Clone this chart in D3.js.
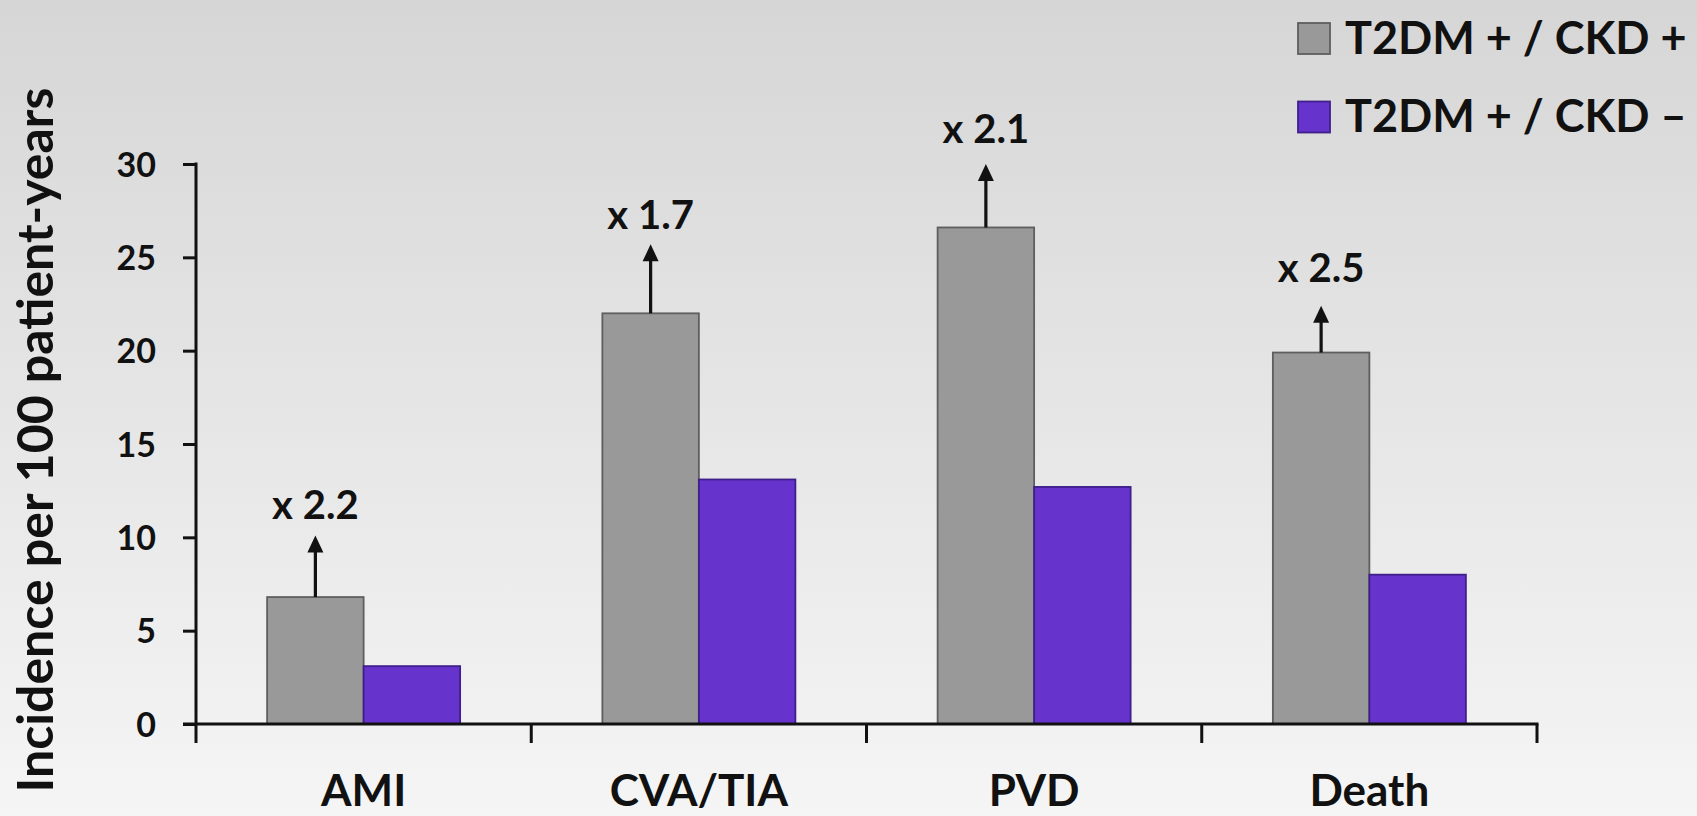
<!DOCTYPE html>
<html>
<head>
<meta charset="utf-8">
<script src="https://cdn.jsdelivr.net/npm/d3@7"></script>
<style>
  html, body { margin: 0; padding: 0; background: #ffffff; }
  svg { display: block; font-family: Lato, "Open Sans", sans-serif; }
</style>
</head>
<body>
<svg id="chart" width="1697" height="816"></svg>
<script>
// Incidence per 100 patient-years by outcome
const categories = ["AMI", "CVA/TIA", "PVD", "Death"];
const series = ["T2DM + / CKD +", "T2DM + / CKD \u2013"];
const ckdPositive = [6.8, 22.0, 26.6, 19.9];
const ckdNegative = [3.1, 13.1, 12.7, 8.0];
// Arrow tips and ratio annotations above the CKD+ bars
const arrowTop = [10.1, 25.7, 30.0, 22.4];
const ratioLabels = ["x 2.2", "x 1.7", "x 2.1", "x 2.5"];
const ratioLabelAt = [11.0, 26.5, 31.1, 23.7];
const yTicks = [0, 5, 10, 15, 20, 25, 30];
const seriesColors = ["#999999", "#6633cc"];
const seriesStrokes = ["#5e5e5e", "#3f1f8a"];

const W = 1697, H = 816;
const svg = d3.select("#chart");

// soft vertical background shading
const defs = svg.append("defs");
const grad = defs.append("linearGradient").attr("id", "bg")
  .attr("x1", 0).attr("y1", 0).attr("x2", 0).attr("y2", 1);
grad.append("stop").attr("offset", "0%").attr("stop-color", "#d6d6d6");
grad.append("stop").attr("offset", "100%").attr("stop-color", "#f5f5f5");
svg.append("rect").attr("width", W).attr("height", H).attr("fill", "url(#bg)");

const plotLeft = 196, plotRight = 1537, plotTop = 164, plotBottom = 724;

const x = d3.scaleBand().domain(categories).range([plotLeft, plotRight]).padding(0);
const xs = d3.scaleBand().domain(series).range([0, x.bandwidth()])
  .paddingInner(0).paddingOuter(0.737);
const y = d3.scaleLinear().domain([0, 30]).range([plotBottom, plotTop]);

const rows = categories.map((c, i) => ({
  cat: c,
  vals: [ckdPositive[i], ckdNegative[i]],
  tip: arrowTop[i],
  label: ratioLabels[i],
  labelAt: ratioLabelAt[i]
}));

// bars
const groups = svg.append("g").selectAll("g").data(rows).join("g")
  .attr("transform", d => `translate(${x(d.cat)},0)`);

groups.selectAll("rect")
  .data(d => d.vals.map((v, j) => ({ s: series[j], v, j })))
  .join("rect")
  .attr("x", d => xs(d.s))
  .attr("width", xs.bandwidth())
  .attr("y", d => y(d.v))
  .attr("height", d => y(0) - y(d.v))
  .attr("fill", d => seriesColors[d.j])
  .attr("stroke", d => seriesStrokes[d.j])
  .attr("stroke-width", 1.8);

// arrows rising from the CKD+ bars
const headLen = 17, headHalf = 8;
groups.each(function (d) {
  const g = d3.select(this);
  const cx = xs(series[0]) + xs.bandwidth() / 2;
  const yTip = y(d.tip);
  g.append("line")
    .attr("x1", cx).attr("x2", cx)
    .attr("y1", y(d.vals[0])).attr("y2", yTip + headLen - 2)
    .attr("stroke", "#111").attr("stroke-width", 3.2);
  g.append("path")
    .attr("d", `M${cx},${yTip} L${cx - headHalf},${yTip + headLen} L${cx + headHalf},${yTip + headLen} Z`)
    .attr("fill", "#111");
  g.append("text")
    .attr("x", cx).attr("y", y(d.labelAt))
    .attr("text-anchor", "middle")
    .attr("font-weight", 700).attr("font-size", 40)
    .attr("fill", "#111")
    .text(d.label);
});

// y axis
const yAxis = svg.append("g")
  .attr("transform", `translate(${plotLeft},0)`)
  .call(d3.axisLeft(y).tickValues(yTicks).tickSize(13).tickSizeOuter(0).tickPadding(27));
yAxis.select(".domain").remove();
yAxis.selectAll(".tick line").attr("stroke", "#111").attr("stroke-width", 3);
yAxis.selectAll(".tick text")
  .attr("font-family", "Lato, sans-serif")
  .attr("font-size", 34).attr("font-weight", 700).attr("fill", "#111")
  .attr("dy", "0.36em");
svg.append("line")
  .attr("x1", plotLeft).attr("x2", plotLeft)
  .attr("y1", y(30) - 1.5).attr("y2", plotBottom + 19)
  .attr("stroke", "#111").attr("stroke-width", 3);

// x axis with ticks at band boundaries
svg.append("line")
  .attr("x1", plotLeft - 13).attr("x2", plotRight + 1.5)
  .attr("y1", plotBottom).attr("y2", plotBottom)
  .attr("stroke", "#111").attr("stroke-width", 3);
const boundaries = categories.map(c => x(c)).concat([x.range()[1]]);
svg.append("g").selectAll("line").data(boundaries.slice(1)).join("line")
  .attr("x1", d => d).attr("x2", d => d)
  .attr("y1", plotBottom).attr("y2", plotBottom + 19)
  .attr("stroke", "#111").attr("stroke-width", 3);
svg.append("g").selectAll("text").data(categories).join("text")
  .attr("x", d => x(d) + x.bandwidth() / 2)
  .attr("y", 806)
  .attr("text-anchor", "middle")
  .attr("font-weight", 700).attr("font-size", 44)
  .attr("fill", "#111")
  .text(d => d);

// y axis title
svg.append("text")
  .attr("transform", "translate(53,440) rotate(-90)")
  .attr("text-anchor", "middle")
  .attr("font-weight", 700).attr("font-size", 50)
  .attr("fill", "#111")
  .text("Incidence per 100 patient-years");

// legend
const legend = svg.append("g").selectAll("g").data(series).join("g")
  .attr("transform", (d, i) => `translate(1298,${23 + i * 78.5})`);
legend.append("rect")
  .attr("width", 32).attr("height", 31)
  .attr("fill", (d, i) => seriesColors[i])
  .attr("stroke", (d, i) => seriesStrokes[i])
  .attr("stroke-width", 1.8);
legend.append("text")
  .attr("x", 47).attr("y", 30.5)
  .attr("font-weight", 700).attr("font-size", 45)
  .attr("fill", "#111")
  .text(d => d);
</script>
</body>
</html>
